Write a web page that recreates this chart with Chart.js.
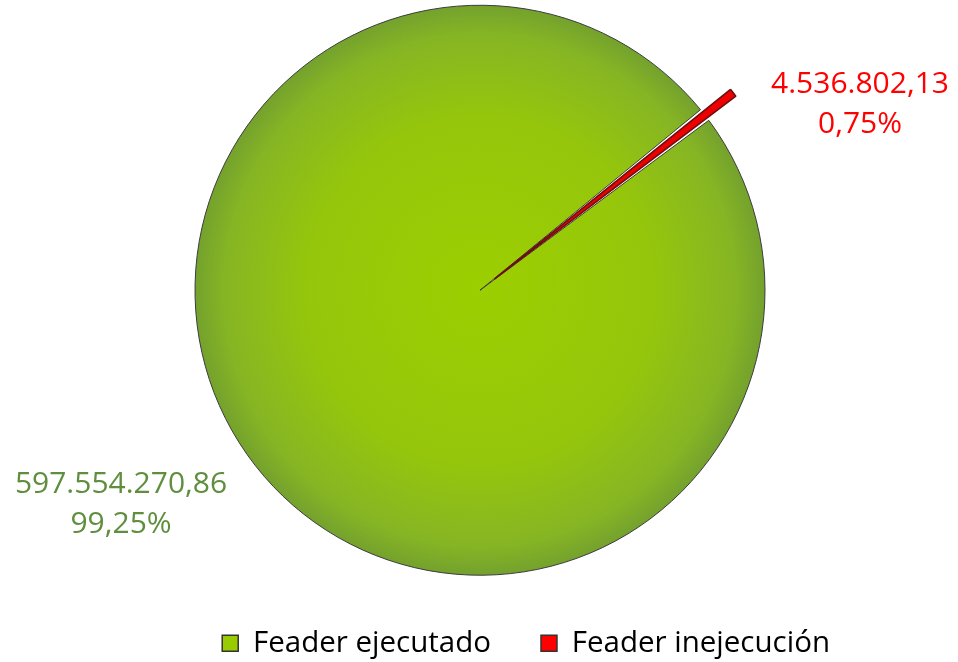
<!DOCTYPE html>
<html>
<head>
<meta charset="utf-8">
<script src="https://cdn.jsdelivr.net/npm/chart.js@4.4.1/dist/chart.umd.min.js"></script>
<style>
    html, body { margin: 0; padding: 0; background: #ffffff; }
    #wrap { width: 958px; height: 662px; }
</style>
</head>
<body>
<div id="wrap"><canvas id="feaderChart" width="958" height="662"></canvas></div>
<script>
// Chart data
const categories = ['Feader ejecutado', 'Feader inejecución'];
const amounts = [597554270.86, 4536802.13];
const amountLabels = ['597.554.270,86', '4.536.802,13'];
const percentLabels = ['99,25%', '0,75%'];
const labelColors = ['#5f8f3e', '#ff0000'];

// Green slice gets a radial shading, darker at the rim
function sliceColor(ctx) {
    if (ctx.dataIndex === 1) return '#ee0000';
    const chart = ctx.chart;
    const area = chart.chartArea;
    if (!area) return '#99cc00';
    const cx = (area.left + area.right) / 2;
    const cy = (area.top + area.bottom) / 2;
    const g = chart.ctx.createRadialGradient(cx, cy, 0, cx, cy, 290);
    g.addColorStop(0, '#9ccf00');
    g.addColorStop(0.6, '#95c60c');
    g.addColorStop(0.88, '#86b524');
    g.addColorStop(1, '#719e2f');
    return g;
}

// Draws value + percent labels next to each slice
const sliceLabels = {
    id: 'sliceLabels',
    afterDatasetsDraw(chart) {
        const ctx = chart.ctx;
        const area = chart.chartArea;
        const cx = (area.left + area.right) / 2;
        const cy = (area.top + area.bottom) / 2;
        // label anchors relative to the pie centre
        const spots = [[-359, 213], [380, -187]];
        ctx.save();
        ctx.font = '30px "Open Sans", sans-serif';
        ctx.textAlign = 'center';
        ctx.textBaseline = 'middle';
        amountLabels.forEach((txt, i) => {
            ctx.fillStyle = labelColors[i];
            ctx.fillText(txt, cx + spots[i][0], cy + spots[i][1] - 19);
            ctx.fillText(percentLabels[i], cx + spots[i][0], cy + spots[i][1] + 21);
        });
        ctx.restore();
    }
};

const chart = new Chart(document.getElementById('feaderChart'), {
    type: 'pie',
    data: {
        labels: categories,
        datasets: [{
            data: amounts,
            backgroundColor: sliceColor,
            borderColor: ['#3c3c3c', '#6a1010'],
            borderWidth: [1, 1.5],
            offset: [0, 74]
        }]
    },
    options: {
        responsive: false,
        animation: false,
        rotation: 53.4,
        radius: 285,
        layout: { padding: { left: 80, right: 78, top: 2, bottom: -6 } },
        plugins: {
            tooltip: { enabled: false },
            legend: {
                position: 'bottom',
                align: 'end',
                labels: {
                    color: '#595959',
                    font: { family: '"Open Sans", sans-serif', size: 29.5 },
                    boxWidth: 16,
                    boxHeight: 16,
                    padding: 50,
                    generateLabels(chart) {
                        return categories.map((c, i) => ({
                            text: c,
                            fillStyle: i === 0 ? '#99cc00' : '#ff0000',
                            strokeStyle: '#333333',
                            lineWidth: 1.5,
                            index: i
                        }));
                    }
                }
            }
        }
    },
    plugins: [sliceLabels]
});
</script>
</body>
</html>
